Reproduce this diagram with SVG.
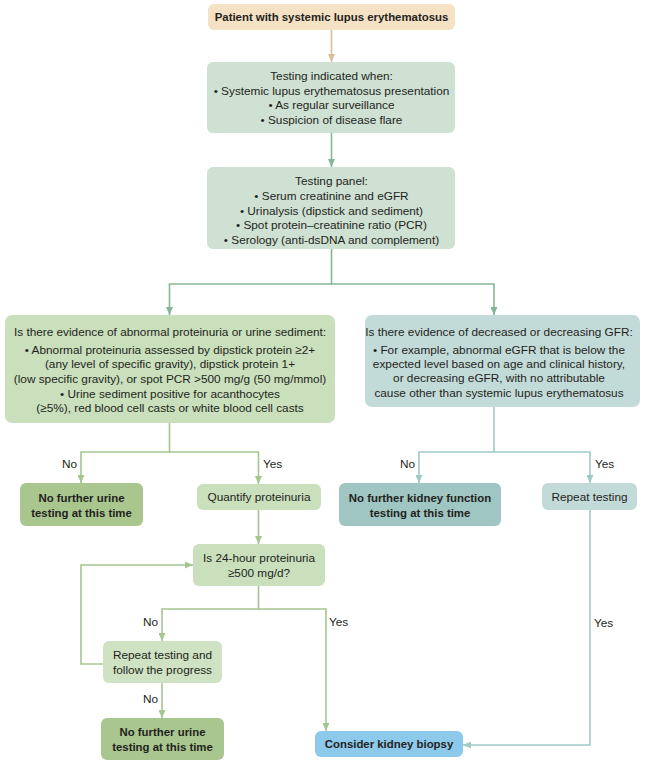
<svg xmlns="http://www.w3.org/2000/svg" width="645" height="766" viewBox="0 0 645 766">
<defs>
<style>
text{font-family:"Liberation Sans",Arial,sans-serif;font-size:11.8px;fill:#231f20;text-anchor:middle}
.b{font-weight:bold;font-size:11.4px}
.l{text-anchor:start}
.c{fill:none;stroke-width:1.6}
.beige{stroke:#d9bf98}
.gg{stroke:#86b595}
.gr{stroke:#a6c690}
.tl{stroke:#9fcac5}
</style>
<marker id="aB" markerWidth="8" markerHeight="7" refX="8" refY="3.5" orient="auto" markerUnits="userSpaceOnUse"><path d="M0,0L8,3.5L0,7z" fill="#d9bf98"/></marker>
<marker id="aG" markerWidth="8" markerHeight="7" refX="8" refY="3.5" orient="auto" markerUnits="userSpaceOnUse"><path d="M0,0L8,3.5L0,7z" fill="#86b595"/></marker>
<marker id="aL" markerWidth="8" markerHeight="7" refX="8" refY="3.5" orient="auto" markerUnits="userSpaceOnUse"><path d="M0,0L8,3.5L0,7z" fill="#a6c690"/></marker>
<marker id="aT" markerWidth="8" markerHeight="7" refX="8" refY="3.5" orient="auto" markerUnits="userSpaceOnUse"><path d="M0,0L8,3.5L0,7z" fill="#9fcac5"/></marker>
</defs>
<rect width="645" height="766" fill="#fff"/>
<g id="connectors">
<path class="c beige" d="M331.5,30V62" marker-end="url(#aB)"/>
<path class="c gg" d="M331.5,133V167" marker-end="url(#aG)"/>
<path class="c gg" d="M331.5,249V284H169.5V315" marker-end="url(#aG)"/>
<path class="c gg" d="M331.5,284H494V315" marker-end="url(#aG)"/>
<path class="c gr" d="M169.5,423V452H81V483" marker-end="url(#aL)"/>
<path class="c gr" d="M169.5,452H258.5V484" marker-end="url(#aL)"/>
<path class="c tl" d="M494,407V452H419V483" marker-end="url(#aT)"/>
<path class="c tl" d="M494,452H590V483" marker-end="url(#aT)"/>
<path class="c gr" d="M258.5,510V544" marker-end="url(#aL)"/>
<path class="c gr" d="M258.5,586V609H162V641" marker-end="url(#aL)"/>
<path class="c gr" d="M258.5,609H326V731" marker-end="url(#aL)"/>
<path class="c gr" d="M103,664H81V565H193" marker-end="url(#aL)"/>
<path class="c gr" d="M162,683V718" marker-end="url(#aL)"/>
<path class="c tl" d="M590,510V745H463" marker-end="url(#aT)"/>
</g>
<g id="labels">
<text class="l" x="62" y="468">No</text>
<text class="l" x="263" y="468">Yes</text>
<text class="l" x="400" y="468">No</text>
<text class="l" x="595" y="468">Yes</text>
<text class="l" x="143" y="626">No</text>
<text class="l" x="329" y="626">Yes</text>
<text class="l" x="143" y="703">No</text>
<text class="l" x="594" y="627">Yes</text>
</g>
<g id="patient">
<rect x="208" y="4" width="247" height="26" rx="6" fill="#f5e1c4"/>
<text class="b" x="331.5" y="21">Patient with systemic lupus erythematosus</text>
</g>
<g id="indicated">
<rect x="207" y="62" width="248" height="71" rx="6" fill="#cfe1d3"/>
<text x="331.5" y="80">Testing indicated when:</text>
<text x="331.5" y="94.5">• Systemic lupus erythematosus presentation</text>
<text x="331.5" y="109">• As regular surveillance</text>
<text x="331.5" y="124">• Suspicion of disease flare</text>
</g>
<g id="panel">
<rect x="207" y="167" width="248" height="82" rx="6" fill="#cfe1d3"/>
<text x="331.5" y="185">Testing panel:</text>
<text x="331.5" y="200">• Serum creatinine and eGFR</text>
<text x="331.5" y="214.5">• Urinalysis (dipstick and sediment)</text>
<text x="331.5" y="229">• Spot protein–creatinine ratio (PCR)</text>
<text x="331.5" y="244">• Serology (anti-dsDNA and complement)</text>
</g>
<g id="proteinuria">
<rect x="5" y="315" width="330" height="108" rx="7" fill="#cadfbc"/>
<text x="170" y="336">Is there evidence of abnormal proteinuria or urine sediment:</text>
<text x="170" y="354">• Abnormal proteinuria assessed by dipstick protein ≥2+</text>
<text x="170" y="367.5">(any level of specific gravity), dipstick protein 1+</text>
<text x="170" y="382.5">(low specific gravity), or spot PCR &gt;500 mg/g (50 mg/mmol)</text>
<text x="170" y="397.5">• Urine sediment positive for acanthocytes</text>
<text x="170" y="412">(≥5%), red blood cell casts or white blood cell casts</text>
</g>
<g id="gfr">
<rect x="365" y="315" width="275" height="92" rx="7" fill="#c3dbd8"/>
<text x="499" y="336">Is there evidence of decreased or decreasing GFR:</text>
<text x="499" y="353.5">• For example, abnormal eGFR that is below the</text>
<text x="499" y="367.5">expected level based on age and clinical history,</text>
<text x="499" y="381.5">or decreasing eGFR, with no attributable</text>
<text x="499" y="396.5">cause other than systemic lupus erythematosus</text>
</g>
<g id="nourine1">
<rect x="20" y="483" width="123" height="43" rx="6" fill="#a9c68f"/>
<text class="b" x="81.5" y="502">No further urine</text>
<text class="b" x="81.5" y="517">testing at this time</text>
</g>
<g id="quantify">
<rect x="197" y="484" width="124" height="26" rx="6" fill="#cadfbc"/>
<text x="259" y="501">Quantify proteinuria</text>
</g>
<g id="nokidney">
<rect x="339" y="483" width="162" height="43" rx="6" fill="#9fc6c2"/>
<text class="b" x="420" y="502">No further kidney function</text>
<text class="b" x="420" y="517">testing at this time</text>
</g>
<g id="repeat">
<rect x="542" y="483" width="95" height="27" rx="6" fill="#c3dbd8"/>
<text x="589.5" y="501">Repeat testing</text>
</g>
<g id="hour24">
<rect x="193" y="544" width="132" height="42" rx="6" fill="#cadfbc"/>
<text x="259" y="562">Is 24-hour proteinuria</text>
<text x="259" y="577">≥500 mg/d?</text>
</g>
<g id="repeatfollow">
<rect x="103" y="641" width="119" height="42" rx="6" fill="#cfe2c3"/>
<text x="162.5" y="659">Repeat testing and</text>
<text x="162.5" y="674">follow the progress</text>
</g>
<g id="nourine2">
<rect x="101" y="718" width="123" height="42" rx="6" fill="#a9c68f"/>
<text class="b" x="162.5" y="736">No further urine</text>
<text class="b" x="162.5" y="751">testing at this time</text>
</g>
<g id="biopsy">
<rect x="315" y="731" width="148" height="26" rx="6" fill="#8dc9eb"/>
<text class="b" x="389" y="748">Consider kidney biopsy</text>
</g>
</svg>
